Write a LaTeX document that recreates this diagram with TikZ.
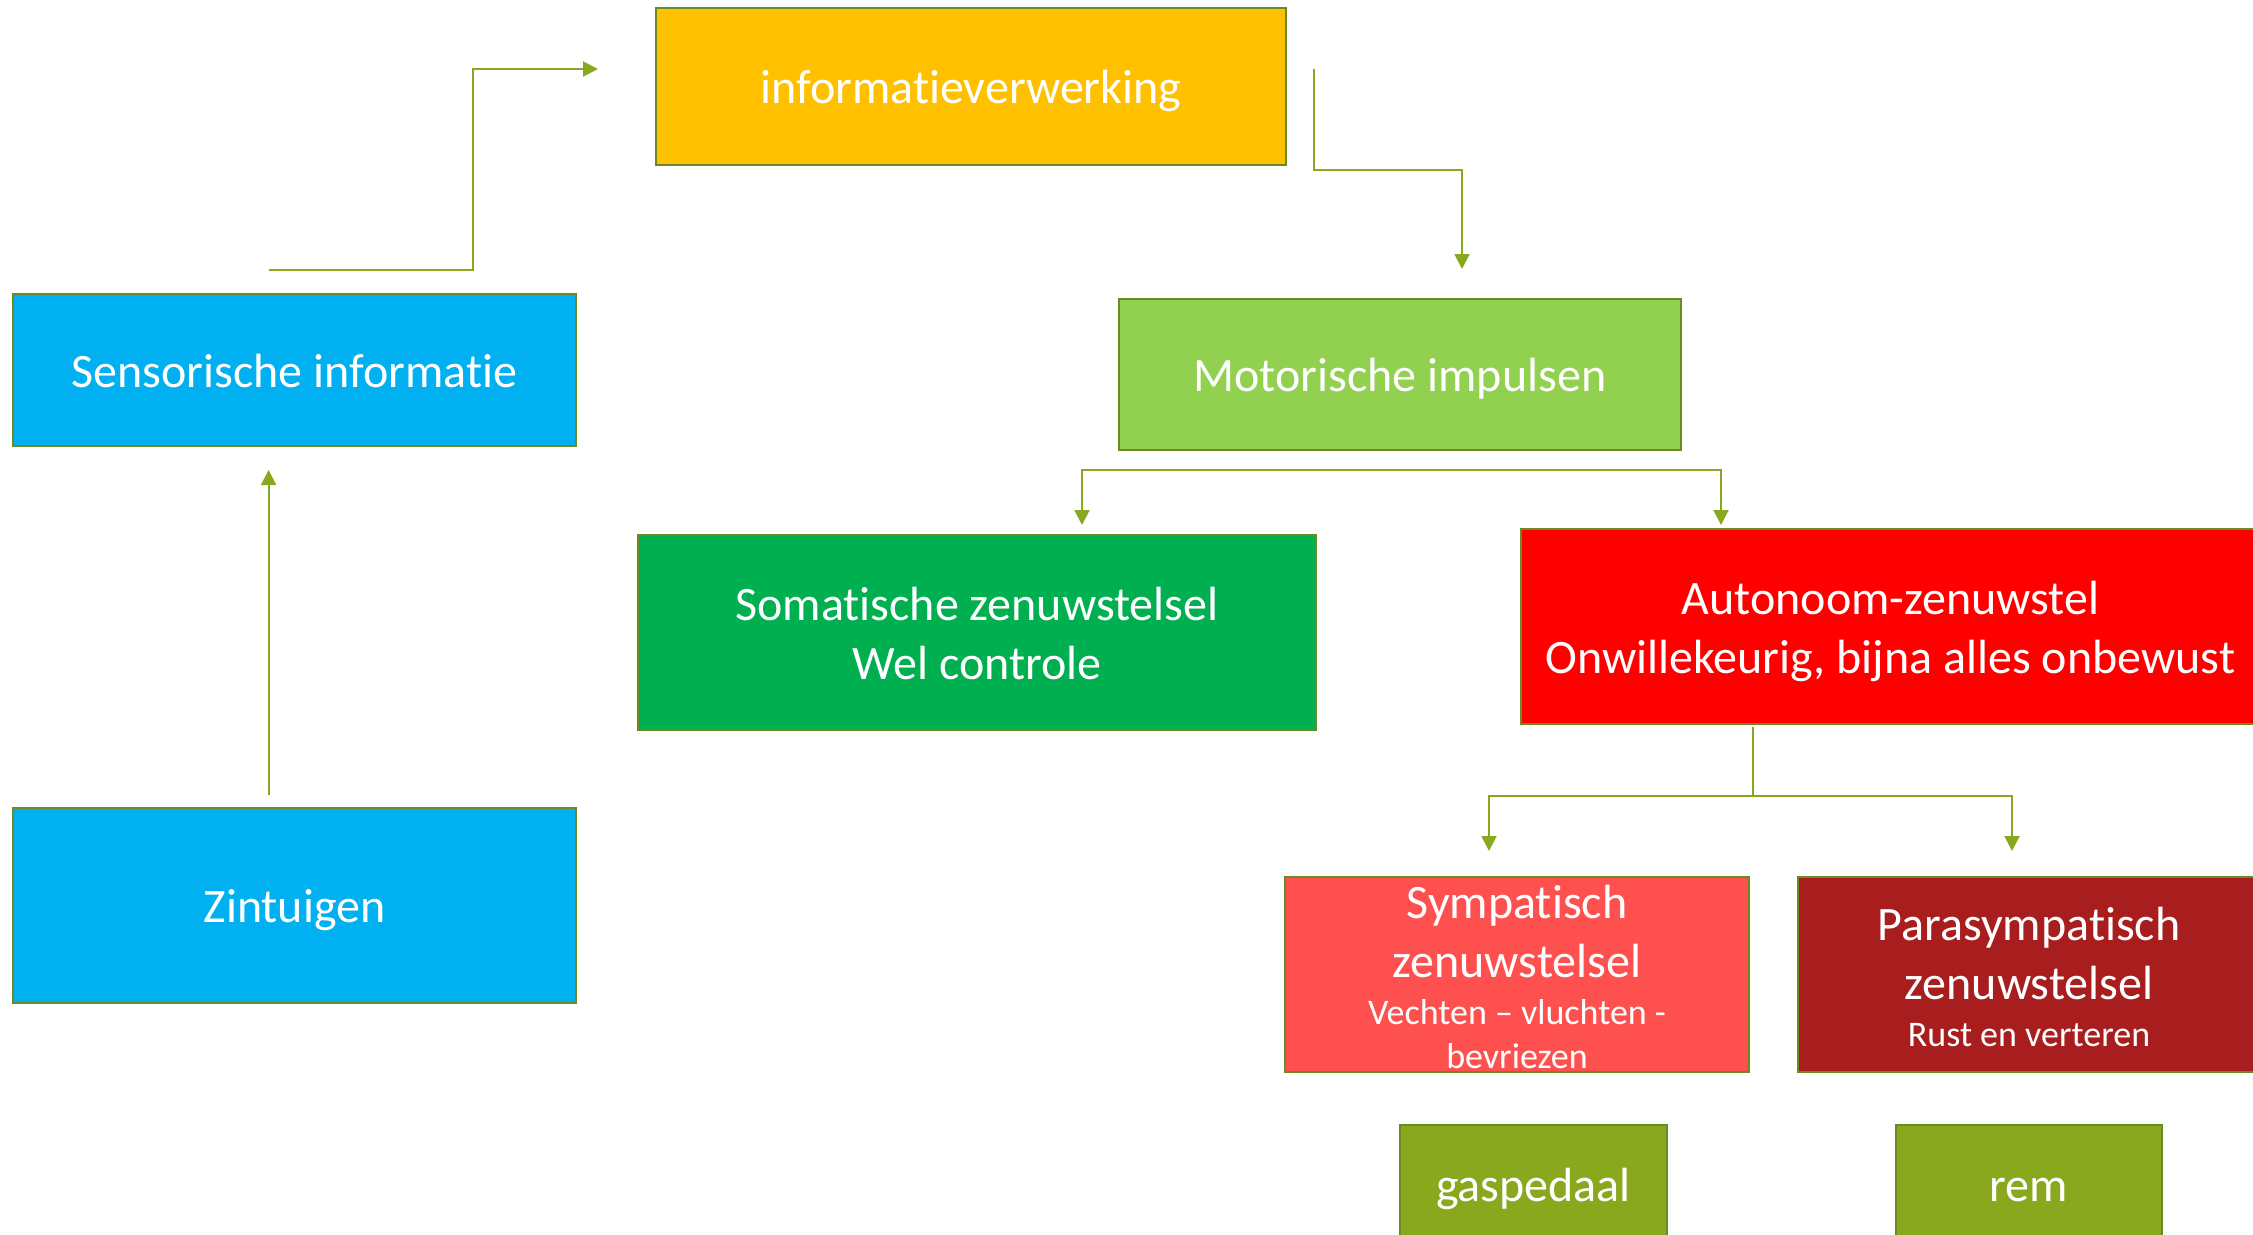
\documentclass[tikz,border=0pt]{standalone}
\usepackage{fontspec}
\setmainfont{Carlito}[Ligatures={NoCommon,NoContextual}]
\usetikzlibrary{arrows.meta}

\definecolor{edgec}{HTML}{6A8A22}
\definecolor{linkc}{HTML}{88A820}
\definecolor{infoc}{HTML}{FFC000}
\definecolor{sensc}{HTML}{00B0F0}
\definecolor{motc}{HTML}{92D050}
\definecolor{somc}{HTML}{00B050}
\definecolor{autc}{HTML}{FF0000}
\definecolor{symc}{HTML}{FF5050}
\definecolor{parc}{HTML}{A81E1E}
\definecolor{pedc}{HTML}{8AA81E}

% line struts: ascent (with line gap) and descent of each text size
\newcommand{\bigln}{\rule[-12pt]{0pt}{58.6pt}}
\newcommand{\smallln}{\fontsize{36pt}{0pt}\selectfont\rule[-9pt]{0pt}{44pt}}
% tight line stacking, so that the struts fix the line distances
\newcommand{\boxfont}{\fontsize{48pt}{0pt}\selectfont\lineskip=0pt\relax\lineskiplimit=0pt\relax}

\begin{document}
\begin{tikzpicture}[x=1pt,y=-1pt,
  box/.style={draw=edgec, line width=2.5pt, text=white, align=center,
    inner sep=0pt, font=\boxfont},
  conn/.style={draw=linkc, line width=2pt,
    -{Triangle[length=15pt,width=15pt]}},
  stem/.style={draw=linkc, line width=1.2pt}
]
\useasboundingbox (0,0) rectangle (2253,1234);
\clip (0,0) rectangle (2253,1234);

% boxes
\node[box, fill=infoc, minimum width=630pt, minimum height=157pt]
  (info) at (971,86.5) {\bigln informatieverwerking};
\node[box, fill=sensc, minimum width=563pt, minimum height=152pt]
  (sens) at (294.5,370) {\bigln Sensorische informatie};
\node[box, fill=sensc, minimum width=563pt, minimum height=195pt]
  (zin) at (294.5,905.5) {\bigln Zintuigen};
\node[box, fill=motc, minimum width=562pt, minimum height=151pt]
  (mot) at (1400,374.5) {\bigln Motorische impulsen};
\node[box, fill=somc, minimum width=678pt, minimum height=195pt]
  (som) at (977,632.5) {\bigln Somatische zenuwstelsel\\\bigln Wel controle};
\node[box, fill=autc, minimum width=739pt, minimum height=195pt]
  (aut) at (1890.5,626.5) {\bigln Autonoom-zenuwstel\\\bigln Onwillekeurig, bijna alles onbewust};
% the text runs slightly past this box's top and bottom edges
\node[box, fill=symc, minimum width=464pt, minimum height=195pt, inner ysep=-8pt]
  (sym) at (1517,974.5) {\bigln Sympatisch\\\bigln zenuwstelsel\\{\smallln Vechten – vluchten -}\\{\smallln bevriezen}};
\node[box, fill=parc, minimum width=462pt, minimum height=195pt]
  (par) at (2029,974.5) {\bigln Parasympatisch\\\bigln zenuwstelsel\\{\smallln Rust en verteren}};
\node[box, fill=pedc, minimum width=267pt, minimum height=118pt]
  (gas) at (1533.5,1184) {\bigln gaspedaal};
\node[box, fill=pedc, minimum width=266pt, minimum height=118pt]
  (rem) at (2029,1184) {\bigln rem};

% connector end points
\coordinate (zinTop) at (268.6,795);
\coordinate (sensIn) at (268.6,470);
\coordinate (sensOut) at (269,270);
\coordinate (infoIn) at (598,69);
\coordinate (infoOut) at (1314,69);
\coordinate (motIn) at (1462,269);
\coordinate (motFork) at (1400,470);
\coordinate (somIn) at (1082,525);
\coordinate (autIn) at (1721,525);
\coordinate (autOut) at (1753,727);
\coordinate (autFork) at (1753,796);
\coordinate (symIn) at (1489,851);
\coordinate (parIn) at (2012,851);

% connectors
\draw[conn] (zinTop) -- (sensIn);
\draw[conn] (sensOut) -- ++(204,0) |- (infoIn);
\draw[conn] (infoOut) -- ++(0,101) -| (motIn);
\draw[conn] (motFork) -| (somIn);
\draw[conn] (motFork) -| (autIn);
\draw[stem] (autOut) -- (autFork);
\draw[conn] (autFork) -| (symIn);
\draw[conn] (autFork) -| (parIn);
\end{tikzpicture}
\end{document}
